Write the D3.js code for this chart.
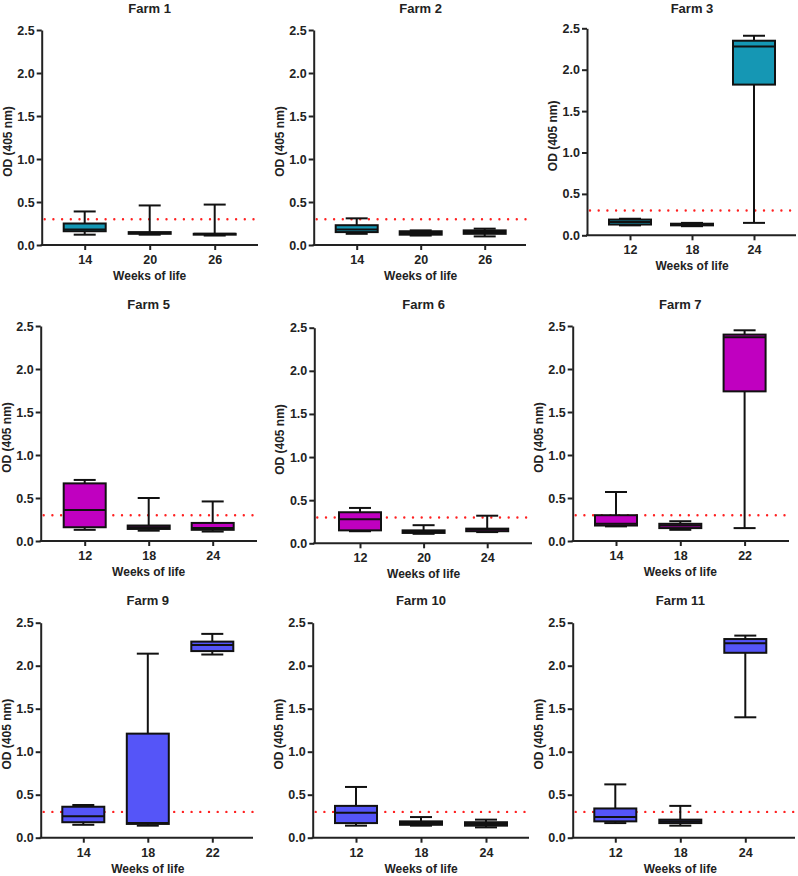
<!DOCTYPE html>
<html>
<head>
<meta charset="utf-8">
<script src="https://cdn.jsdelivr.net/npm/d3@7"></script>
<style>
  body { margin: 0; background: #fff; }
  svg text { font-family: "Liberation Sans", Arial, sans-serif; font-weight: bold; fill: #222; }
</style>
</head>
<body>
<div id="chart"></div>
<script>
// data
const farms = ["Farm 1", "Farm 2", "Farm 3", "Farm 5", "Farm 6", "Farm 7", "Farm 9", "Farm 10", "Farm 11"];
const weeks = [[14, 20, 26], [14, 20, 26], [12, 18, 24], [12, 18, 24], [12, 20, 24], [14, 18, 22], [14, 18, 22], [12, 18, 24], [12, 18, 24]];
const whiskerLow = [[0.12, 0.12, 0.11], [0.13, 0.11, 0.10], [0.12, 0.11, 0.15], [0.13, 0.12, 0.11], [0.14, 0.11, 0.13], [0.17, 0.13, 0.15], [0.15, 0.14, 2.13], [0.14, 0.14, 0.12], [0.17, 0.14, 1.40]];
const q1 = [[0.16, 0.13, 0.12], [0.15, 0.12, 0.13], [0.13, 0.12, 1.82], [0.16, 0.14, 0.13], [0.15, 0.12, 0.14], [0.18, 0.15, 1.74], [0.18, 0.16, 2.17], [0.17, 0.15, 0.14], [0.19, 0.17, 2.15]];
const median = [[0.18, 0.14, 0.13], [0.18, 0.14, 0.15], [0.16, 0.13, 2.28], [0.36, 0.16, 0.15], [0.28, 0.14, 0.16], [0.20, 0.18, 2.37], [0.25, 0.17, 2.24], [0.29, 0.17, 0.16], [0.24, 0.19, 2.26]];
const q3 = [[0.25, 0.15, 0.13], [0.23, 0.16, 0.17], [0.19, 0.14, 2.35], [0.67, 0.18, 0.21], [0.36, 0.15, 0.17], [0.30, 0.20, 2.40], [0.36, 1.21, 2.28], [0.37, 0.19, 0.18], [0.34, 0.21, 2.31]];
const whiskerHigh = [[0.39, 0.46, 0.47], [0.31, 0.17, 0.19], [0.20, 0.15, 2.41], [0.71, 0.50, 0.46], [0.41, 0.21, 0.32], [0.57, 0.23, 2.45], [0.38, 2.14, 2.37], [0.59, 0.24, 0.21], [0.62, 0.37, 2.35]];
const boxColors = ["#1597b4", "#1597b4", "#1597b4", "#c000c0", "#c000c0", "#c000c0", "#5555f8", "#5555f8", "#5555f8"];
const cutoff = 0.3;
const yTicks = [0, 0.5, 1.0, 1.5, 2.0, 2.5];
const xTitle = "Weeks of life";
const yTitle = "OD (405 nm)";

// panel placement (axis x, plot top/bottom, title baseline, category step, axis end)
const layout = [
  { ax: 41.7, top: 30, bot: 245, ty: 12.5, first: 43, step: 65, end: 258 },
  { ax: 313.7, top: 30, bot: 245, ty: 12.5, first: 43, step: 64, end: 526 },
  { ax: 587, top: 28.3, bot: 235.3, ty: 12.5, first: 43, step: 62, end: 796 },
  { ax: 40.7, top: 326, bot: 541, ty: 309, first: 44, step: 64, end: 257 },
  { ax: 314.3, top: 327.7, bot: 543.3, ty: 309, first: 45.7, step: 63.6, end: 532 },
  { ax: 572.7, top: 326, bot: 541, ty: 309, first: 43.3, step: 64.3, end: 789 },
  { ax: 40.7, top: 622.7, bot: 837.7, ty: 605, first: 42.6, step: 64.5, end: 253 },
  { ax: 312.7, top: 622.7, bot: 837.7, ty: 605, first: 43.3, step: 65, end: 529 },
  { ax: 572.7, top: 622.7, bot: 837.7, ty: 605, first: 42.6, step: 65, end: 795 }
];

const svg = d3.select('#chart').append('svg')
    .attr('width', 798)
    .attr('height', 876);

farms.forEach((name, i) => {
    const L = layout[i];
    const g = svg.append('g').attr('transform', `translate(${L.ax},0)`);

    const y = d3.scaleLinear().domain([0, 2.5]).range([L.bot, L.top]);
    const x = d3.scalePoint().domain(weeks[i])
        .range([L.first, L.first + 2 * L.step]);

    const boxW = 42, capW = 22;

    // y axis
    const yAxis = g.append('g')
        .call(d3.axisLeft(y).tickValues(yTicks).tickFormat(d3.format('.1f'))
            .tickSize(5).tickSizeOuter(0).tickPadding(2));
    yAxis.selectAll('path, line').attr('stroke', '#222').attr('stroke-width', 2);
    yAxis.selectAll('text').attr('font-size', 12.5);

    // x axis
    const xAxis = g.append('g')
        .attr('transform', `translate(0,${L.bot})`)
        .call(d3.axisBottom(x).tickSize(5).tickPadding(5));
    xAxis.select('.domain').remove();
    xAxis.selectAll('line').attr('stroke', '#222').attr('stroke-width', 2);
    xAxis.selectAll('text').attr('font-size', 12.5);
    g.append('line')
        .attr('x1', -1).attr('x2', L.end - L.ax)
        .attr('y1', L.bot).attr('y2', L.bot)
        .attr('stroke', '#222').attr('stroke-width', 2);

    // cutoff line
    g.append('line')
        .attr('x1', 3).attr('x2', L.end - L.ax)
        .attr('y1', y(cutoff)).attr('y2', y(cutoff))
        .attr('stroke', '#ff2020').attr('stroke-width', 2.4)
        .attr('stroke-linecap', 'round')
        .attr('stroke-dasharray', '0,8.7');

    // boxes
    const rows = weeks[i].map((w, j) => ({
        w, lo: whiskerLow[i][j], q1: q1[i][j], med: median[i][j], q3: q3[i][j], hi: whiskerHigh[i][j]
    }));
    const b = g.selectAll('.box').data(rows).enter().append('g').attr('class', 'box');
    b.append('line')
        .attr('x1', d => x(d.w)).attr('x2', d => x(d.w))
        .attr('y1', d => y(d.lo)).attr('y2', d => y(d.hi))
        .attr('stroke', '#111').attr('stroke-width', 2);
    b.append('line')
        .attr('x1', d => x(d.w) - capW / 2).attr('x2', d => x(d.w) + capW / 2)
        .attr('y1', d => y(d.lo)).attr('y2', d => y(d.lo))
        .attr('stroke', '#111').attr('stroke-width', 2);
    b.append('line')
        .attr('x1', d => x(d.w) - capW / 2).attr('x2', d => x(d.w) + capW / 2)
        .attr('y1', d => y(d.hi)).attr('y2', d => y(d.hi))
        .attr('stroke', '#111').attr('stroke-width', 2);
    b.append('rect')
        .attr('x', d => x(d.w) - boxW / 2)
        .attr('width', boxW)
        .attr('y', d => y(d.q3))
        .attr('height', d => Math.max(0, y(d.q1) - y(d.q3)))
        .attr('fill', boxColors[i])
        .attr('stroke', '#111').attr('stroke-width', 2);
    b.append('line')
        .attr('x1', d => x(d.w) - boxW / 2).attr('x2', d => x(d.w) + boxW / 2)
        .attr('y1', d => y(d.med)).attr('y2', d => y(d.med))
        .attr('stroke', '#111').attr('stroke-width', 2);

    // titles
    g.append('text')
        .attr('x', x(weeks[i][1])).attr('y', L.ty)
        .attr('text-anchor', 'middle').attr('font-size', 13)
        .text(name);
    g.append('text')
        .attr('x', x(weeks[i][1])).attr('y', L.bot + 35)
        .attr('text-anchor', 'middle').attr('font-size', 12)
        .text(xTitle);
    g.append('text')
        .attr('transform', `translate(-30,${(L.top + L.bot) / 2 + 4}) rotate(-90)`)
        .attr('text-anchor', 'middle').attr('font-size', 12)
        .text(yTitle);
});
</script>
</body>
</html>
